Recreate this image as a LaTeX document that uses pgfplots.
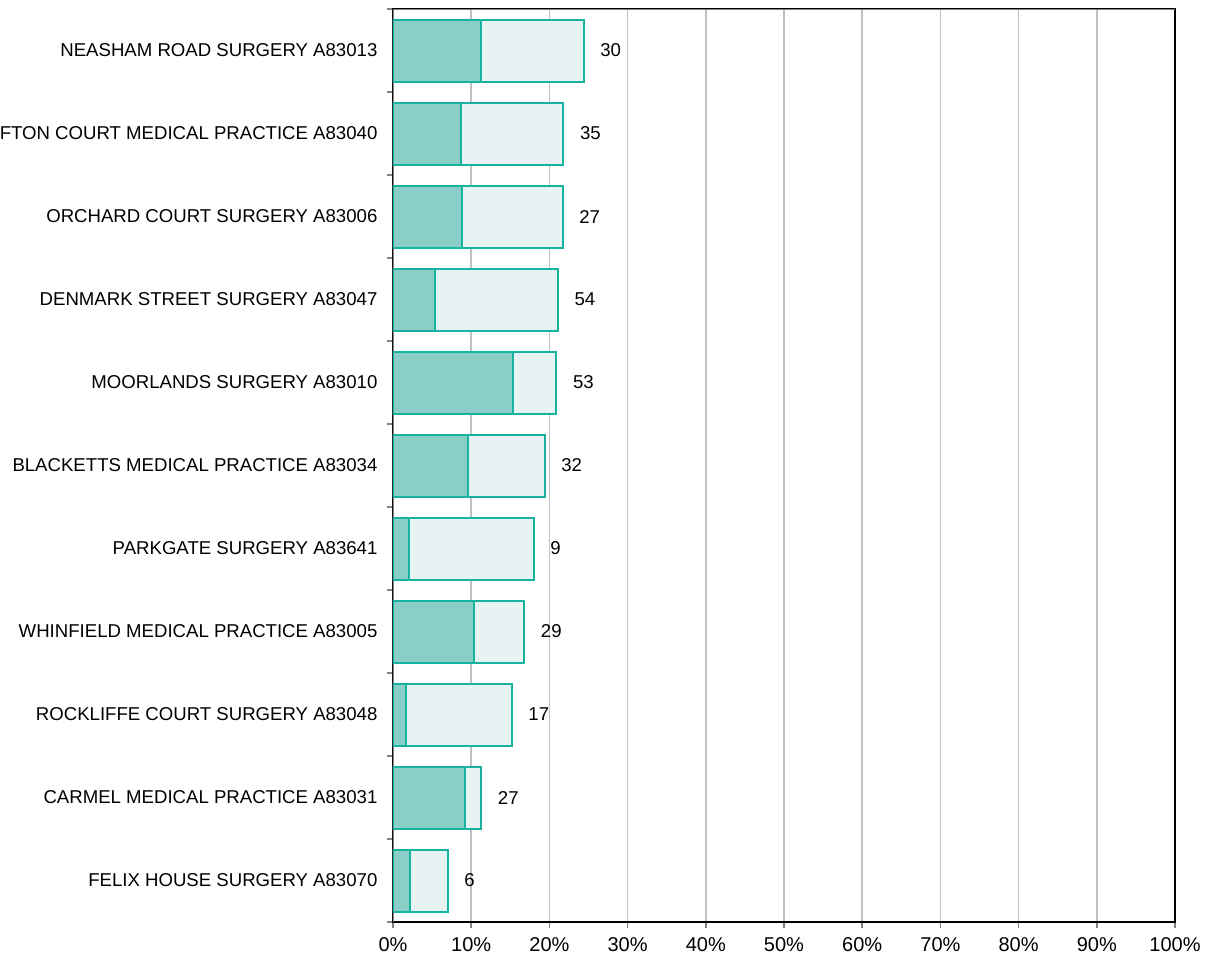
\documentclass[border=0pt]{standalone}
\usepackage{fontspec}
\setmainfont{Liberation Sans}
\usepackage{pgfplots}
\usepackage{pgfplotstable}
\pgfplotsset{compat=1.18}

\definecolor{darkteal}{HTML}{8ACFC7}
\definecolor{lightteal}{HTML}{E6F3F2}
\definecolor{edgeteal}{HTML}{17B3A0}
\definecolor{gridgrey}{HTML}{C0C0C0}
\definecolor{axisgrey}{HTML}{828282}

% idx: 0 = top row; values in percent, n = count label
\pgfplotstableread{
idx dark light total n
0  11.3 13.1  24.4 30
1  8.75 13.05 21.8 35
2  8.8  12.9  21.7 27
3  5.4  15.7  21.1 54
4  15.3 5.6   20.9 53
5  9.6  9.8   19.4 32
6  2.0  16.0  18.0 9
7  10.4 6.4   16.8 29
8  1.7  13.5  15.2 17
9  9.2  2.1   11.3 27
10 2.2  4.8   7.0  6
}\practices

\pgfplotsset{
  frame/.style={
    scale only axis,
    width=391pt, height=456.5pt,
    xmin=0, xmax=100,
    ymin=-0.5, ymax=10.5,
    y dir=reverse,
    bar width=31pt,
  },
}

\begin{document}
\fontsize{9.3}{11}\selectfont
\begin{tikzpicture}
\begin{axis}[
    name=ax,
    frame,
    xbar stacked,
    xtick={0,10,...,100},
    xticklabels={0\%,10\%,20\%,30\%,40\%,50\%,60\%,70\%,80\%,90\%,100\%},
    ytick={0,...,10},
    yticklabels={
        NEASHAM ROAD SURGERY A83013,
        CLIFTON COURT MEDICAL PRACTICE A83040,
        ORCHARD COURT SURGERY A83006,
        DENMARK STREET SURGERY A83047,
        MOORLANDS SURGERY A83010,
        BLACKETTS MEDICAL PRACTICE A83034,
        PARKGATE SURGERY A83641,
        WHINFIELD MEDICAL PRACTICE A83005,
        ROCKLIFFE COURT SURGERY A83048,
        CARMEL MEDICAL PRACTICE A83031,
        FELIX HOUSE SURGERY A83070},
    major y tick style={draw=none},
    minor ytick={-0.5,0.5,...,10.5},
    xtick pos=bottom, ytick pos=left,
    tick align=outside,
    major tick length=3pt, minor tick length=3pt,
    tick style={axisgrey, line width=0.8pt},
    xmajorgrids,
    grid style={gridgrey, line width=0.8pt},
    axis line style={black, line width=1pt},
    /pgf/number format/assume math mode=true,
    xticklabel style={font=\fontsize{10}{12}\selectfont, yshift=-1.5pt},
    yticklabel style={xshift=-1.5pt},
    every axis plot/.append style={draw=edgeteal, line width=1pt},
]
\addplot[fill=darkteal] table[x=dark, y=idx] {\practices};
\addplot[fill=lightteal] table[x=light, y=idx] {\practices};
\draw[axisgrey, line width=1pt] (rel axis cs:0,0) -- (rel axis cs:0,1) -- (rel axis cs:1,1);
\end{axis}
% same frame, unstacked, only to put the counts at the bar ends
\begin{axis}[
    frame,
    at={(ax.south west)}, anchor=south west,
    xbar, hide axis,
]
\addplot[draw=none, fill=none,
    nodes near coords,
    point meta=explicit symbolic,
    every node near coord/.append style={anchor=west, xshift=5pt, black},
] table[x=total, y=idx, meta=n] {\practices};
\end{axis}
\pgfresetboundingbox
\path[use as bounding box] ([xshift=-196.5pt,yshift=-18.5pt]ax.south west) rectangle ([xshift=15pt,yshift=4.5pt]ax.north east);
\end{tikzpicture}
\end{document}
